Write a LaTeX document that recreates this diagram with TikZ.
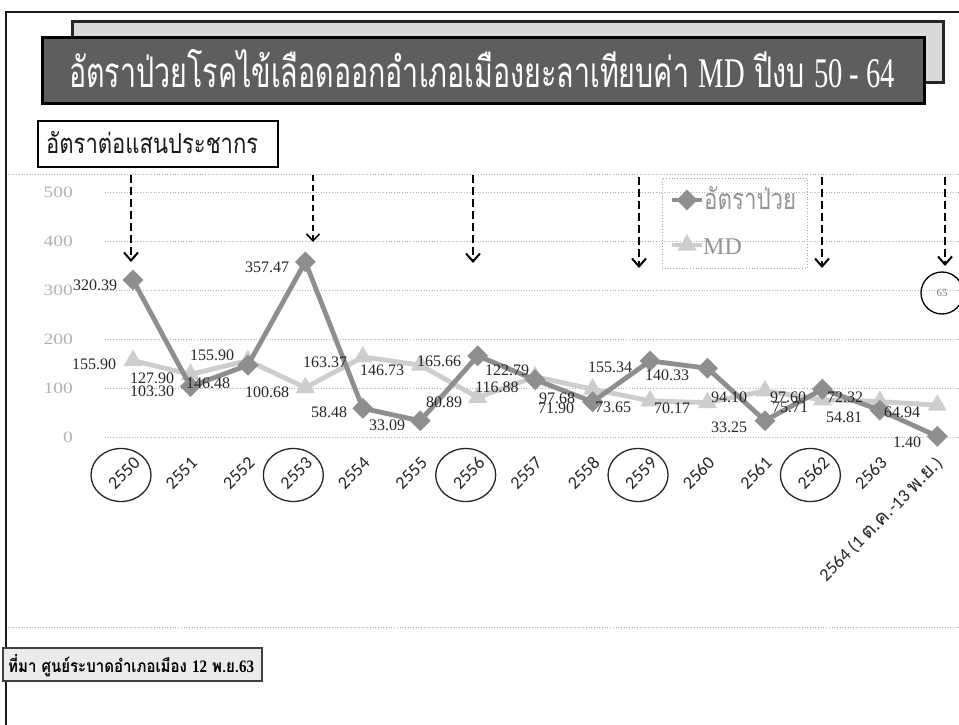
\documentclass[tikz,border=0pt]{standalone}
\usepackage{fontspec}
\setmainfont{Liberation Serif}
\newfontfamily\thaifont[Script=Thai]{Loma}
\newfontfamily\calib{Carlito}
\usetikzlibrary{arrows.meta,shapes.geometric}
\definecolor{ratecol}{HTML}{8E8E8E}
\definecolor{mdcol}{HTML}{CDCDCD}
\definecolor{titledark}{HTML}{5E5E5E}
\definecolor{titlelight}{HTML}{DADADA}
\tikzset{
  ratemk/.style={diamond, fill=ratecol, minimum width=21pt, minimum height=21pt, inner sep=0pt},
  mdmk/.style={regular polygon, regular polygon sides=3, fill=mdcol, minimum size=22pt, inner sep=0pt},
  rateline/.style={ratecol, line width=4.8pt, line join=round},
  mdline/.style={mdcol, line width=4.8pt, line join=round},
  dlab/.style={font=\fontsize{16}{16}\selectfont, text=black!85, inner sep=0pt},
  ylab/.style={font=\fontsize{15}{15}\selectfont, text=black!30, inner sep=0pt, anchor=east},
  xlab/.style={font=\calib\fontsize{18}{18}\selectfont, text=black!85, rotate=45, anchor=east, inner sep=0pt},
  yrcirc/.style={ellipse, draw=black!85, line width=1.3pt, minimum width=60pt, minimum height=53pt, inner sep=0pt},
  darrow/.style={black, line width=2.6pt, dash pattern=on 8pt off 4pt, -{Straight Barb[length=8pt,width=14pt,line width=2pt]}},
  darrowthin/.style={black, line width=1.6pt, dash pattern=on 6pt off 4pt, -{Straight Barb[length=7pt,width=13pt,line width=1.6pt]}},
  gridln/.style={black!30, line width=0.7pt, dotted},
  framel/.style={black!90, line width=2.5pt},
}
\begin{document}
\begin{tikzpicture}[x=1pt,y=-1pt]
\useasboundingbox (0,0) rectangle (959,725);
\fill[white] (0,0) rectangle (959,725);
% slide frame
\coordinate (fTL) at (6,12);
\coordinate (fBL) at (6,725);
\coordinate (fTR) at (959,12);
\draw[framel] (fBL) -- (fTL) -- (fTR);
% title boxes
\node[draw=black!85, line width=3pt, fill=titlelight, minimum width=871pt, minimum height=61pt, inner sep=0pt] (tback) at (507.5,52.5) {};
\node[draw=black, line width=3pt, fill=titledark, minimum width=882pt, minimum height=65pt, inner sep=0pt] (tfront) at (483,70.5) {};
\node[anchor=base west, inner sep=0pt, text=white] (title) at (69,88)
  {\resizebox{826pt}{38pt}{\thaifont อัตราป่วยโรคไข้เลือดออกอำเภอเมืองยะลาเทียบค่า {\rmfamily MD} ปีงบ {\rmfamily 50 - 64}}};
% unit label box
\node[draw=black, line width=1.3pt, fill=white, minimum width=240pt, minimum height=46pt, inner sep=0pt] (unitbox) at (158,144) {};
\node[anchor=base west, inner sep=0pt, text=black!90] (unit) at (46,153)
  {\resizebox{212pt}{22pt}{\thaifont อัตราต่อแสนประชากร}};
% chart area borders and gridlines
\coordinate (caTL) at (8,174); \coordinate (caTR) at (959,174);
\coordinate (caBL) at (8,627); \coordinate (caBR) at (959,627);
\draw[gridln] (caTL) -- (caTR);
\draw[gridln] (caBL) -- (caBR);
\foreach \v [count=\k from 0] in {0,100,200,300,400,500} {
  \coordinate (gl\k) at (105,{437-0.49*\v});
  \coordinate (gr\k) at (959,{437-0.49*\v});
  \draw[gridln] (gl\k) -- (gr\k);
  \node[ylab] (yl\k) at (73,{437-0.49*\v}) {\scalebox{1.3}[1.05]{\v}};
}
% markers (MD)
\foreach \v [count=\i from 0] in {155.90,127.90,155.90,100.68,163.37,146.73,80.89,122.79,97.68,73.65,70.17,94.10,75.71,72.32,64.94}
  \coordinate (mc\i) at ({133+57.45*\i},{437-0.49*\v});
\draw[mdline] (mc0) \foreach \i in {1,...,14} { -- (mc\i) };
\foreach \i in {0,...,14} \node[mdmk] (m\i) at (mc\i) {};
% markers (rate)
\foreach \v [count=\i from 0] in {320.39,103.30,146.48,357.47,58.48,33.09,165.66,116.88,71.90,155.34,140.33,33.25,97.60,54.81,1.40}
  \coordinate (rc\i) at ({133+57.45*\i},{437-0.49*\v});
\draw[rateline] (rc0) \foreach \i in {1,...,14} { -- (rc\i) };
\foreach \i in {0,...,14} \node[ratemk] (r\i) at (rc\i) {};
% data labels
\foreach \t/\lx/\ly [count=\i from 0] in {155.90/94/364, 127.90/152/378, 155.90/212/355, 100.68/267/392, 163.37/325/362, 146.73/382/370, 80.89/444/402, 122.79/507/370, 97.68/557/398, 73.65/613/407, 70.17/672/408, 94.10/729/397, 75.71/790/407, 72.32/845/397, 64.94/902/412}
  \node[dlab] (ml\i) at (\lx,\ly) {\t};
\foreach \t/\lx/\ly [count=\i from 0] in {320.39/95/285, 103.30/152/391, 146.48/208/383, 357.47/267/267, 58.48/329/412, 33.09/387/425, 165.66/439/361, 116.88/497/387, 71.90/556/408, 155.34/610/367, 140.33/667/375, 33.25/729/427, 97.60/788/397, 54.81/844/417, 1.40/907/442}
  \node[dlab] (rl\i) at (\lx,\ly) {\t};
% category labels
\foreach \i in {0,...,13} {
  \pgfmathtruncatemacro\yr{2550+\i}
  \node[xlab] (x\i) at ({137+57.45*\i},460) {\yr};
}
\node[xlab] (x14) at (940,461) {2564 (1 {\thaifont\fontsize{20}{20}\selectfont ต.ค.}-13 {\thaifont\fontsize{20}{20}\selectfont พ.ย.})};
\foreach \i in {0,3,6,9,12} \node[yrcirc] (c\i) at ({121+57.45*\i},475) {};
% legend
\node[draw=black!35, dotted, line width=0.8pt, minimum width=145pt, minimum height=90pt, inner sep=0pt] (legend) at (734.5,223) {};
\coordinate (lgA1) at (672,200); \coordinate (lgA2) at (702,200);
\coordinate (lgB1) at (672,245); \coordinate (lgB2) at (702,245);
\draw[rateline] (lgA1) -- (lgA2);
\node[ratemk] (lgr) at (687,200) {};
\draw[mdline] (lgB1) -- (lgB2);
\node[mdmk] (lgm) at (687,245) {};
\node[anchor=base west, inner sep=0pt, text=black!42] (lgrt) at (704,209) {\resizebox{92pt}{23pt}{\thaifont อัตราป่วย}};
\node[anchor=base west, inner sep=0pt, text=black!42, font=\fontsize{24}{24}\selectfont] (lgmt) at (703,254) {MD};
% circle 65
\node[circle, draw=black, line width=1.3pt, minimum size=42pt, inner sep=0pt, text=black!50, font=\fontsize{11}{11}\selectfont] (c65) at (942,293) {65};
% dashed arrows
\coordinate (a1s) at (131,175); \coordinate (a1e) at (131,262);
\coordinate (a2s) at (313,175); \coordinate (a2e) at (313,242);
\coordinate (a3s) at (473,175); \coordinate (a3e) at (473,263);
\coordinate (a4s) at (639,177); \coordinate (a4e) at (639,268);
\coordinate (a5s) at (822,177); \coordinate (a5e) at (822,268);
\coordinate (a6s) at (945,177); \coordinate (a6e) at (945,266);
\draw[darrow] (a1s) -- (a1e);
\draw[darrowthin] (a2s) -- (a2e);
\draw[darrow] (a3s) -- (a3e);
\draw[darrow] (a4s) -- (a4e);
\draw[darrow] (a5s) -- (a5e);
\draw[darrow] (a6s) -- (a6e);
% source box
\node[draw=black!75, line width=1.2pt, fill=black!8, minimum width=259pt, minimum height=33pt, inner sep=0pt] (srcbox) at (132.5,664.5) {};
\node[anchor=base west, inner sep=0pt, text=black] (src) at (8,672)
  {\resizebox{246pt}{18pt}{\thaifont\bfseries ที่มา ศูนย์ระบาดอำเภอเมือง {\rmfamily 12} พ.ย.{\rmfamily 63}}};
\end{tikzpicture}
\end{document}
